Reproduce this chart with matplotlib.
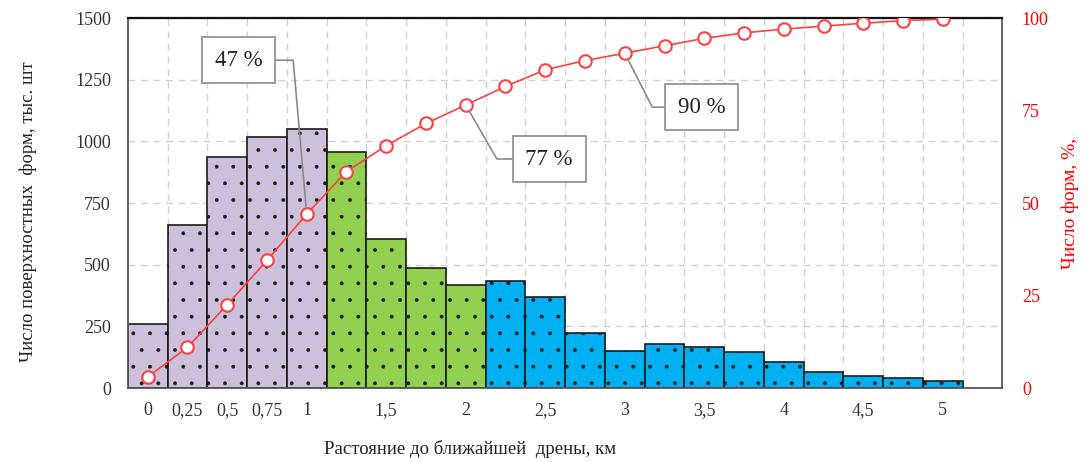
import matplotlib
matplotlib.use('Agg')
import matplotlib.pyplot as plt

plt.rcParams['font.family'] = ['Liberation Serif', 'DejaVu Serif']
plt.rcParams['hatch.linewidth'] = 0.3
plt.rcParams['hatch.color'] = '#111111'

# distance to nearest drain, km (step 0.25)
labels = ['0', '0,25', '0,5', '0,75', '1', '', '1,5', '', '2', '', '2,5', '', '3',
          '', '3,5', '', '4', '', '4,5', '', '5']
counts = [258, 662, 935, 1016, 1049, 957, 604, 486, 418, 434, 369, 223, 150,
          178, 167, 147, 104, 64, 49, 39, 28]
cum_pct = [3, 11, 22.5, 34.5, 47, 58.5, 65.5, 71.5, 76.5, 81.5, 86, 88.5, 90.5,
           92.5, 94.5, 96, 97, 97.8, 98.6, 99.3, 99.7]
groups = ['a'] * 5 + ['b'] * 4 + ['c'] * 12
group_colors = {'a': '#CCC0DA', 'b': '#92D050', 'c': '#00B0F0'}
notes = [(4, '47 %'), (8, '77 %'), (12, '90 %')]

fig = plt.figure(figsize=(10.92, 4.62), dpi=100)
ax = fig.add_axes([0.117, 0.160, 0.801, 0.801])

x = list(range(len(counts)))
ax.bar(x, counts, width=1.0, color=[group_colors[g] for g in groups],
       edgecolor='#1a1a1a', linewidth=1.2, hatch='.', zorder=2)

ax.set_xlim(-0.5, len(counts) + 0.5)
ax.set_ylim(0, 1500)
ax.set_yticks([0, 250, 500, 750, 1000, 1250, 1500])
ax.set_xticks(x)
ax.set_xticklabels(labels)
ax.set_xticks([i + 0.5 for i in x], minor=True)
ax.grid(False)
ax.grid(True, which='minor', axis='x', color='#d0d0d0', linestyle=(0, (5, 4)), linewidth=1)
ax.grid(True, which='major', axis='y', color='#d0d0d0', linestyle=(0, (5, 4)), linewidth=1)
ax.set_axisbelow(True)
ax.tick_params(which='both', length=0)
ax.tick_params(axis='y', pad=12, labelsize=13, colors='#333333')
ax.tick_params(axis='x', pad=10, labelsize=13, colors='#333333')

ax.set_ylabel('Число поверхностных  форм, тыс. шт', fontsize=13.5, color='#222222')
ax.yaxis.set_label_coords(-0.104, 0.476)
ax.set_xlabel('Растояние до ближайшей  дрены, км', fontsize=13.5, color='#222222')
ax.xaxis.set_label_coords(0.391, -0.14)

for s in ['left', 'right', 'bottom']:
    ax.spines[s].set_color('#555555')
    ax.spines[s].set_linewidth(1.3)
ax.spines['top'].set_color('#111111')
ax.spines['top'].set_linewidth(1.6)

ax2 = ax.twinx()
ax2.set_ylim(0, 100)
ax2.set_yticks([0, 25, 50, 75, 100])
ax2.plot(x, cum_pct, color='#FF4040', linewidth=1.2, marker='o', markersize=9,
         markerfacecolor='white', markeredgecolor='#FF4040', markeredgewidth=1.5, zorder=3)
ax2.tick_params(length=0, pad=14, labelsize=13, colors='#FF0000')
for s in ax2.spines.values():
    s.set_visible(False)
ax2.set_ylabel('Число форм, %,', fontsize=14, color='#FF0000')
ax2.yaxis.set_label_coords(1.067, 0.5)

box_pos = {4: (2.29, 88.6), 8: (10.1, 61.9), 12: (13.93, 75.9)}
leader_ang = {4: 95, 8: -60, 12: -63}
for i, txt in notes:
    ax2.annotate(txt, xy=(x[i], cum_pct[i]), xytext=box_pos[i],
                 ha='center', va='center', fontsize=16.5, color='#222222',
                 bbox=dict(boxstyle='square,pad=0.55', fc='white', ec='#8a8a8a', lw=1.2),
                 arrowprops=dict(arrowstyle='-', color='#8a8a8a', lw=1.2,
                                 connectionstyle='angle,angleA=0,angleB=%d,rad=0' % leader_ang[i],
                                 shrinkA=0, shrinkB=5),
                 zorder=5)

fig.savefig('out.png', dpi=100)
